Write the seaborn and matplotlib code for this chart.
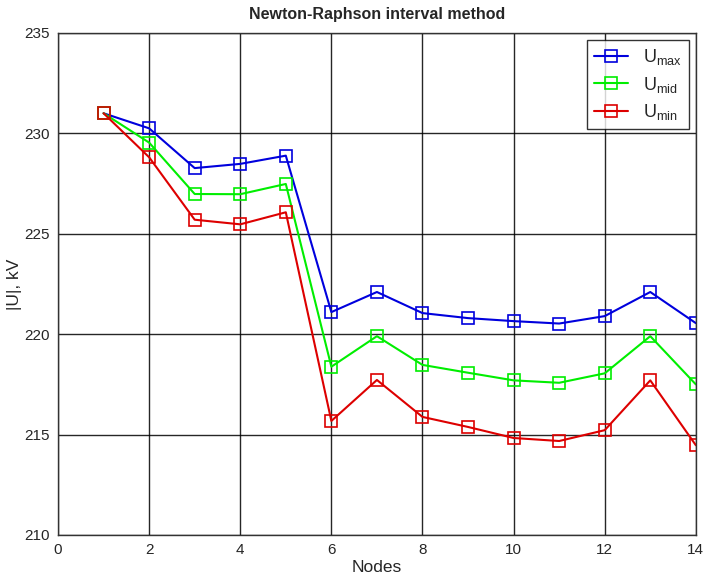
import matplotlib
matplotlib.use('Agg')
import matplotlib.pyplot as plt
import seaborn as sns
import pandas as pd

# Node voltages
nodes = [1, 2, 3, 4, 5, 6, 7, 8, 9, 10, 11, 12, 13, 14]
u_max = [231.0, 230.25, 228.27, 228.48, 228.89, 221.1, 222.1, 221.05, 220.8, 220.65, 220.53, 220.9, 222.1, 220.55]
u_mid = [231.0, 229.54, 226.98, 226.97, 227.48, 218.38, 219.9, 218.47, 218.08, 217.7, 217.58, 218.05, 219.9, 217.5]
u_min = [231.0, 228.81, 225.7, 225.47, 226.07, 215.68, 217.72, 215.88, 215.38, 214.83, 214.68, 215.22, 217.7, 214.47]

labels = [r'U$_{\mathrm{max}}$', r'U$_{\mathrm{mid}}$', r'U$_{\mathrm{min}}$']
colors = ['#0000dd', '#00ee00', '#dd0000']

sns.set_style('white')
plt.rcParams['font.family'] = ['Liberation Sans', 'DejaVu Sans']
plt.rcParams['mathtext.fontset'] = 'custom'
plt.rcParams['mathtext.rm'] = 'Liberation Sans'

df = pd.DataFrame({'Nodes': nodes * 3,
                   'U': u_max + u_mid + u_min,
                   'series': [labels[0]] * 14 + [labels[1]] * 14 + [labels[2]] * 14})

fig = plt.figure(figsize=(7.04, 5.78), dpi=100)
ax = fig.add_axes([0.0824, 0.0744, 0.906, 0.8686])

sns.lineplot(data=df, x='Nodes', y='U', hue='series', palette=colors,
             marker='s', markersize=8, markerfacecolor='none', markeredgewidth=1.2,
             linewidth=1.5, ax=ax)
for line, c in zip(ax.lines, colors):
    line.set_markeredgecolor(c)

ax.set_xlim(0, 14)
ax.set_ylim(210, 235)
ax.set_xticks(range(0, 15, 2))
ax.set_yticks(range(210, 236, 5))
ax.grid(True, color='black', linewidth=1.0, alpha=0.85)
ax.tick_params(length=0, labelsize=11, pad=6)
for s in ax.spines.values():
    s.set_color('#333333')
    s.set_linewidth(1.0)

ax.set_title('Newton-Raphson interval method', fontsize=11.5, fontweight='bold', pad=10)
ax.set_xlabel('Nodes', fontsize=12.5, labelpad=2)
ax.set_ylabel('|U|, kV', fontsize=12.5)
ax.yaxis.set_label_coords(-0.057, 0.5)

leg = ax.legend(loc='upper right', fontsize=13, frameon=True, fancybox=False,
                handlelength=1.9, borderaxespad=0.4, labelspacing=0.4)
leg.get_frame().set_edgecolor('black')
leg.get_frame().set_linewidth(1.0)
for h, c in zip(leg.legend_handles, colors):
    h.set_markerfacecolor('none')
    h.set_markeredgecolor(c)

fig.savefig('out.png', dpi=100)
